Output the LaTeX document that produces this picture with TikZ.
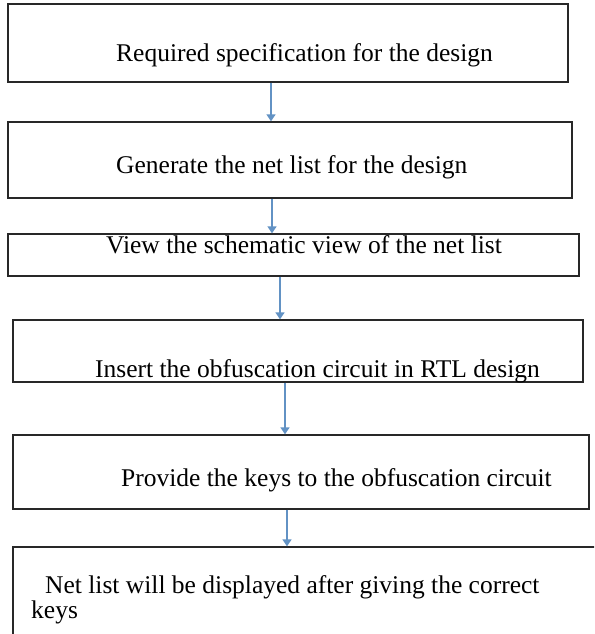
\documentclass[tikz,border=0pt]{standalone}
\usepackage{fontspec}
\setmainfont{Liberation Serif}
\usetikzlibrary{arrows.meta}
\definecolor{ArrowClr}{RGB}{98,146,196}
\definecolor{BoxClr}{RGB}{40,40,40}

\begin{document}
\begin{tikzpicture}[x=1pt,y=-1pt,
  box/.style={draw=BoxClr,line width=1.3pt,inner sep=0pt},
  lbl/.style={anchor=base west,inner sep=0pt,align=left,font=\fontsize{25.5}{21}\selectfont},
  flow/.style={draw=ArrowClr,line width=1.4pt,-{Triangle[length=7pt,width=9pt]}}]
\clip (0,0) rectangle (594,634);
\fill[white] (0,0) rectangle (594,634);

% boxes
\node[box,minimum width=560,minimum height=78] (b1) at (288,43) {};
\node[box,minimum width=564,minimum height=76] (b2) at (290,160) {};
\node[box,minimum width=571,minimum height=42] (b3) at (293.5,255) {};
\node[box,minimum width=570,minimum height=62] (b4) at (298,351) {};
\node[box,minimum width=576,minimum height=74] (b5) at (301,472) {};
\node[box,minimum width=620,minimum height=140] (b6) at (323,617) {};

% texts
\node[lbl] (t1) at (116,62) {Required specification for the design};
\node[lbl] (t2) at (116,173) {Generate the net list for the design};
\node[lbl] (t3) at (106,253) {View the schematic view of the net list};
\node[lbl] (t4) at (95,377) {Insert the obfuscation circuit in RTL design};
\node[lbl] (t5) at (121,486) {Provide the keys to the obfuscation circuit};
\node[lbl] (t6) at (31,618) {\hspace*{14pt}Net list will be displayed after giving the correct\\keys};

% arrows
\coordinate (a1) at (271,0);
\coordinate (a2) at (272,0);
\coordinate (a3) at (280,0);
\coordinate (a4) at (285,0);
\coordinate (a5) at (287,0);
\draw[flow] (b1.south -| a1) -- (b2.north -| a1);
\draw[flow] (b2.south -| a2) -- (b3.north -| a2);
\draw[flow] (b3.south -| a3) -- (b4.north -| a3);
\draw[flow] (b4.south -| a4) -- (b5.north -| a4);
\draw[flow] (b5.south -| a5) -- (b6.north -| a5);

\end{tikzpicture}
\end{document}
